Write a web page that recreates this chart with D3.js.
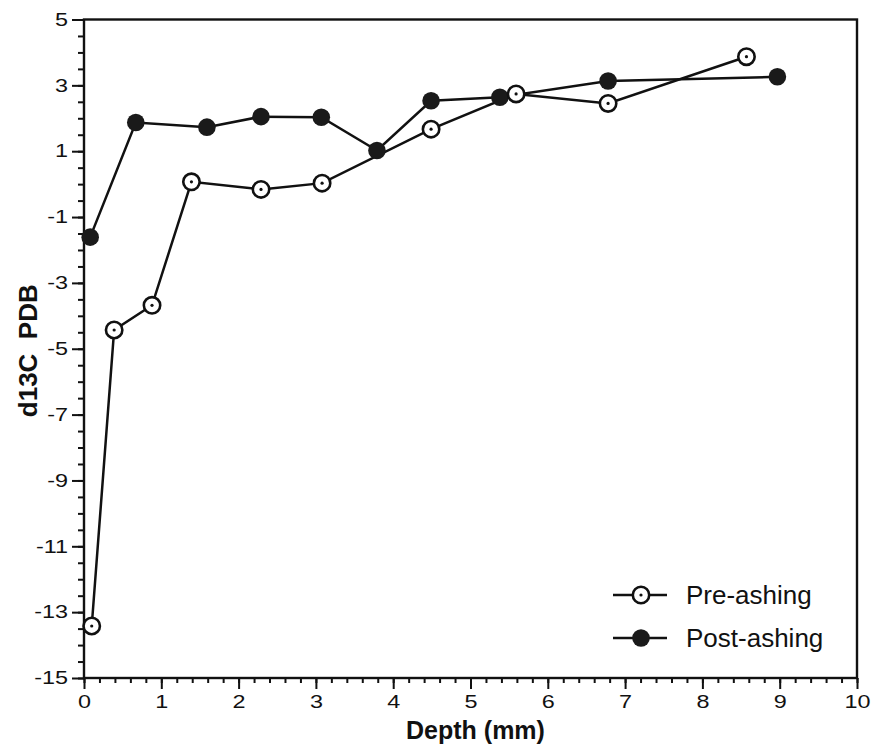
<!DOCTYPE html>
<html>
<head>
<meta charset="utf-8">
<script src="https://cdn.jsdelivr.net/npm/d3@7"></script>
<style>
  body { margin: 0; background: #fff; }
  text { font-family: "Liberation Sans", Arial, Helvetica, sans-serif; fill: #111; }
</style>
</head>
<body>
<div id="chart-area"></div>
<script>
// values
var preDepth = [0.10, 0.39, 0.88, 1.39, 2.29, 3.08, 4.49, 5.59, 6.78, 8.57];
var preD13C = [-13.42, -4.43, -3.68, 0.07, -0.16, 0.03, 1.67, 2.74, 2.45, 3.87];
var postDepth = [0.08, 0.67, 1.59, 2.29, 3.07, 3.79, 4.49, 5.38, 6.78, 8.97];
var postD13C = [-1.61, 1.87, 1.73, 2.05, 2.03, 1.02, 2.53, 2.64, 3.13, 3.26];
var xTicks = [0, 1, 2, 3, 4, 5, 6, 7, 8, 9, 10];
var yTicks = [5, 3, 1, -1, -3, -5, -7, -9, -11, -13, -15];
var seriesNames = ["Pre-ashing", "Post-ashing"];

var margin = {left: 84, right: 15, top: 19.5, bottom: 66};
var width = 872 - margin.left - margin.right;
var height = 744 - margin.top - margin.bottom;
var ink = "#111";

var xScale = d3.scaleLinear().domain([0, 10]).range([0, 773]);
var yScale = d3.scaleLinear().domain([-15, 5]).range([height, 0]);

var svg = d3.select("#chart-area")
  .append("svg")
  .attr("width", 872)
  .attr("height", 744)
  .append("g")
  .attr("transform", "translate(" + margin.left + ", " + margin.top + ")");

var pre = preDepth.map((d, i) => ({x: d, y: preD13C[i]}));
var post = postDepth.map((d, i) => ({x: d, y: postD13C[i]}));

// minor ticks first
var xMinor = d3.axisBottom(xScale).tickValues(d3.range(0, 10.01, 0.2)).tickSize(5).tickFormat("");
var yMinor = d3.axisLeft(yScale).tickValues(d3.range(-15, 5.01, 0.5)).tickSize(6).tickFormat("");

svg.append("g").attr("transform", "translate(0," + height + ")").call(xMinor);
svg.append("g").call(yMinor);

var plainNum = (d) => String(d); // keeps the ordinary hyphen for negatives

var xAxisGroup = svg.append("g")
  .attr("class", "x-axis")
  .attr("transform", "translate(0," + height + ")")
  .call(d3.axisBottom(xScale).tickValues(xTicks).tickSize(11).tickPadding(5).tickFormat(plainNum));

var yAxisGroup = svg.append("g")
  .attr("class", "y-axis")
  .call(d3.axisLeft(yScale).tickValues(yTicks).tickSize(12).tickPadding(2).tickFormat(plainNum));

svg.selectAll(".domain").remove();
svg.selectAll(".tick line").attr("stroke", ink).attr("stroke-width", 2);

xAxisGroup.selectAll("text")
  .style("font-size", "18px")
  .attr("fill", ink)
  .attr("transform", "scale(1.3,1)")
  .attr("x", 0)
  .attr("y", 17);

yAxisGroup.selectAll("text")
  .style("font-size", "18px")
  .attr("fill", ink)
  .attr("transform", "scale(1.3,1)")
  .attr("x", -16 / 1.3);

// frame
svg.append("rect")
  .attr("x", 0)
  .attr("y", 0)
  .attr("width", xScale(10))
  .attr("height", height)
  .attr("fill", "none")
  .attr("stroke", ink)
  .attr("stroke-width", 2.4);

svg.append("text")
  .attr("x", xScale(5) + 5)
  .attr("y", height + 61)
  .attr("font-size", "25px")
  .attr("font-weight", "bold")
  .attr("text-anchor", "middle")
  .text("Depth (mm)");

svg.append("text")
  .attr("transform", "translate(" + (28 - margin.left + 9) + "," + (height / 2 + 2) + ") rotate(-90)")
  .attr("font-size", "26px")
  .attr("font-weight", "bold")
  .attr("text-anchor", "middle")
  .style("white-space", "pre")
  .text("d13C  PDB");

var line = d3.line().x((d) => xScale(d.x)).y((d) => yScale(d.y));

[pre, post].forEach((s) => {
  svg.append("path")
    .datum(s)
    .attr("d", line)
    .attr("fill", "none")
    .attr("stroke", ink)
    .attr("stroke-width", 2.5);
});

function openMarker(g) {
  g.append("circle").attr("r", 8.2).attr("fill", "#fff").attr("stroke", ink).attr("stroke-width", 2.6);
  g.append("circle").attr("r", 1.6).attr("fill", ink);
}

function filledMarker(g) {
  g.append("circle").attr("r", 8.8).attr("fill", "#1a1a1a");
}

svg.selectAll(".post")
  .data(post)
  .enter()
  .append("g")
  .attr("class", "post")
  .attr("transform", (d) => "translate(" + xScale(d.x) + "," + yScale(d.y) + ")")
  .each(function() { filledMarker(d3.select(this)); });

svg.selectAll(".pre")
  .data(pre)
  .enter()
  .append("g")
  .attr("class", "pre")
  .attr("transform", (d) => "translate(" + xScale(d.x) + "," + yScale(d.y) + ")")
  .each(function() { openMarker(d3.select(this)); });

// legend
var legend = svg.append("g").attr("transform", "translate(" + (613 - margin.left) + "," + (595 - margin.top) + ")");
seriesNames.forEach((name, i) => {
  var row = legend.append("g").attr("transform", "translate(0," + (i * 43) + ")");
  row.append("line").attr("x1", 0).attr("x2", 54).attr("stroke", ink).attr("stroke-width", 2.5);
  var m = row.append("g").attr("transform", "translate(28,0)");
  if (i === 0) openMarker(m); else filledMarker(m);
  row.append("text")
    .attr("x", 73)
    .attr("y", 9)
    .attr("font-size", "26px")
    .text(name);
});
</script>
</body>
</html>
